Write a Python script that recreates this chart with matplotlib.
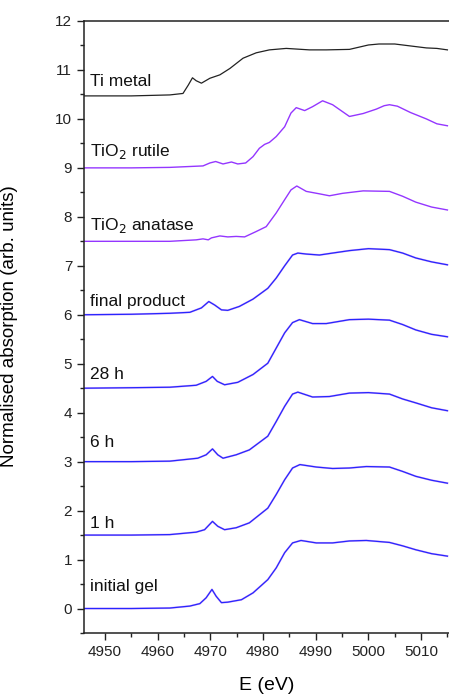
import matplotlib.pyplot as plt

plt.rcParams['font.family'] = ['Liberation Sans', 'DejaVu Sans']

# --- Spectra (energy in eV, stacked absorption) ---
ti_metal_e = [4946, 4955, 4962.3, 4964.8, 4965.8, 4966.6, 4967.3, 4968.3, 4969.9, 4971.8,
              4973.7, 4976.2, 4978.7, 4981.2, 4984.4, 4988.8, 4992, 4996.4, 4998, 5000,
              5002, 5005, 5008, 5011, 5013, 5015]
ti_metal_y = [10.47, 10.47, 10.49, 10.52, 10.69, 10.84, 10.78, 10.73, 10.83, 10.9,
              11.03, 11.24, 11.35, 11.41, 11.44, 11.41, 11.41, 11.42, 11.46, 11.51,
              11.53, 11.53, 11.49, 11.45, 11.44, 11.41]

rutile_e = [4946, 4955, 4962.3, 4968.6, 4969.9, 4971.0, 4972.4, 4974.0, 4975.2, 4976.7,
            4978.1, 4979.3, 4980.3, 4981.2, 4982.5, 4984.1, 4985.3, 4986.3, 4987.9, 4989.4,
            4991.3, 4993.2, 4996.4, 4999, 5001.5, 5003, 5004, 5005.5, 5008, 5011, 5013,
            5015]
rutile_y = [9.0, 9.0, 9.01, 9.04, 9.1, 9.13, 9.08, 9.12, 9.08, 9.1,
            9.23, 9.4, 9.48, 9.52, 9.64, 9.84, 10.12, 10.23, 10.17, 10.25,
            10.37, 10.29, 10.05, 10.11, 10.2, 10.27, 10.29, 10.26, 10.13, 10.0, 9.9,
            9.86]

anatase_e = [4946, 4955, 4962.3, 4967.3, 4968.6, 4969.6, 4970.2, 4971.8, 4973.3, 4974.9,
             4976.5, 4978.7, 4980.6, 4982.5, 4984.1, 4985.3, 4986.4, 4988.2, 4990.7, 4992.6,
             4995.1, 4999, 5004, 5006.5, 5009, 5012, 5015]
anatase_y = [7.5, 7.5, 7.5, 7.53, 7.55, 7.53, 7.57, 7.61, 7.59, 7.6,
             7.59, 7.7, 7.8, 8.08, 8.35, 8.55, 8.63, 8.52, 8.47, 8.43,
             8.48, 8.53, 8.52, 8.42, 8.3, 8.2, 8.14]

final_e = [4946, 4955, 4962.3, 4966.1, 4968.3, 4969.7, 4970.8, 4972.1, 4973.3, 4975.5,
           4978.1, 4980.9, 4982.5, 4984.1, 4985.6, 4986.6, 4988.2, 4990.7, 4993.2, 4996.4,
           5000, 5004, 5006.5, 5009, 5012, 5015]
final_y = [6.0, 6.01, 6.03, 6.05, 6.14, 6.27, 6.2, 6.1, 6.09, 6.17,
           6.32, 6.54, 6.75, 7.0, 7.22, 7.26, 7.24, 7.22, 7.26, 7.31,
           7.35, 7.33, 7.26, 7.16, 7.08, 7.02]

h28_e = [4946, 4955, 4962.3, 4967.3, 4969.2, 4970.4, 4971.3, 4972.7, 4975.2, 4978.1,
         4980.9, 4982.5, 4984.1, 4985.6, 4986.9, 4989.4, 4992.0, 4996.4, 5000, 5004,
         5006.5, 5009, 5012, 5015]
h28_y = [4.5, 4.51, 4.52, 4.56, 4.64, 4.74, 4.64, 4.57, 4.62, 4.78,
         5.01, 5.32, 5.63, 5.84, 5.9, 5.82, 5.82, 5.9, 5.91, 5.89,
         5.8, 5.69, 5.6, 5.55]

h6_e = [4946, 4955, 4962.3, 4967.6, 4969.2, 4970.4, 4971.4, 4972.4, 4974.9, 4977.4,
        4980.9, 4982.5, 4984.1, 4985.6, 4986.6, 4989.4, 4992.6, 4996.4, 5000, 5004,
        5006.5, 5009, 5012, 5015]
h6_y = [3.0, 3.0, 3.01, 3.07, 3.14, 3.26, 3.14, 3.07, 3.14, 3.24,
        3.52, 3.82, 4.13, 4.38, 4.42, 4.32, 4.33, 4.4, 4.41, 4.38,
        4.28, 4.2, 4.1, 4.04]

h1_e = [4946, 4955, 4962.3, 4967.3, 4968.9, 4970.4, 4971.4, 4972.7, 4974.9, 4977.4,
        4980.9, 4982.5, 4984.1, 4985.6, 4987.0, 4990.1, 4993.2, 4996.4, 4999.6, 5004,
        5006.5, 5009, 5012, 5015]
h1_y = [1.5, 1.5, 1.51, 1.56, 1.61, 1.78, 1.68, 1.61, 1.65, 1.75,
        2.05, 2.33, 2.63, 2.87, 2.94, 2.89, 2.86, 2.87, 2.9, 2.89,
        2.8, 2.7, 2.62, 2.56]

gel_e = [4946, 4955, 4962.3, 4966.1, 4968.0, 4969.2, 4970.3, 4971.1, 4972.1, 4973.3,
         4975.9, 4978.1, 4980.9, 4982.5, 4984.1, 4985.6, 4987.2, 4990.1, 4993.2, 4996.4,
         4999.6, 5004, 5006.5, 5009, 5012, 5015]
gel_y = [0.0, 0.0, 0.01, 0.05, 0.1, 0.22, 0.39, 0.25, 0.12, 0.13,
         0.18, 0.32, 0.59, 0.83, 1.14, 1.34, 1.39, 1.34, 1.34, 1.38,
         1.39, 1.35, 1.28, 1.2, 1.12, 1.07]

labels = ["Ti metal", "TiO$_2$ rutile", "TiO$_2$ anatase", "final product",
          "28 h", "6 h", "1 h", "initial gel"]
label_y = [10.76, 9.33, 7.82, 6.27, 4.78, 3.39, 1.73, 0.45]

fig = plt.figure(figsize=(4.49, 6.95), dpi=100)
ax = fig.add_axes([0.187, 0.0892, 0.813, 0.8806])

# reference spectra
ax.plot(ti_metal_e, ti_metal_y, color="#222222", lw=0.9)
for e, y in [(rutile_e, rutile_y), (anatase_e, anatase_y)]:
    ax.plot(e, y, color="#9436ff", lw=1.0)

# time-resolved spectra: data (magenta) under fit (blue)
for e, y in [(final_e, final_y), (h28_e, h28_y), (h6_e, h6_y), (h1_e, h1_y), (gel_e, gel_y)]:
    ax.plot(e, y, color="#c27af0", lw=1.4, alpha=0.6)
    ax.plot(e, y, color="#2626ff", lw=0.9)

for txt, yy in zip(labels, label_y):
    ax.text(4947.1, yy, txt, fontsize=12.5, va="center", ha="left", color="#111111")

ax.set_xlim(4946, 5015.3)
ax.set_ylim(-0.5, 12)
ax.set_xticks(range(4950, 5011, 10))
ax.set_xticks(range(4950, 5016, 5), minor=True)
ax.set_yticks(range(0, 13))
ax.set_yticks([i * 0.5 for i in range(-1, 25)], minor=True)

ax.spines['right'].set_visible(False)
for s in ['left', 'bottom', 'top']:
    ax.spines[s].set_linewidth(1.1)
    ax.spines[s].set_color("#222222")
ax.tick_params(which="major", direction="out", length=5, width=1.0, labelsize=11,
               colors="#222222", top=False, right=False)
ax.tick_params(which="minor", direction="out", length=3, width=1.0, top=False, right=False,
               colors="#222222")

ax.set_xlabel("E (eV)", fontsize=14)
ax.set_ylabel("Normalised absorption (arb. units)", fontsize=13.5)
ax.yaxis.set_label_coords(-0.181, 0.502)
ax.xaxis.set_label_coords(0.5, -0.072)

fig.savefig("out.png", dpi=100)
